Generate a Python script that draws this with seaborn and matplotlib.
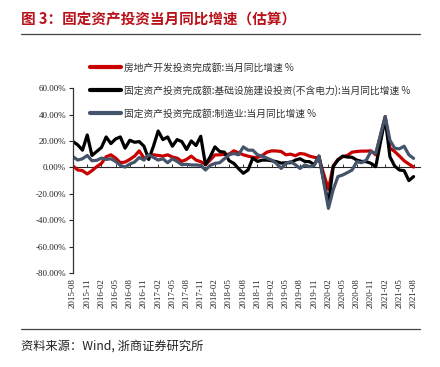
import numpy as np
import pandas as pd
import matplotlib
matplotlib.use("Agg")
import matplotlib.pyplot as plt
import seaborn as sns

# monthly YoY growth (%), 2015-08 .. 2021-08
months = pd.date_range("2015-08-01", periods=73, freq="MS").strftime("%Y-%m").tolist()

real_estate = [1.0, -2.0, -2.5, -5.0, -2.5, 0.5, 3.0, 8.0, 9.5, 7.0,
               3.5, 4.0, 6.0, 8.5, 12.5, 7.0, 8.0, 9.5, 9.0, 8.5,
               9.5, 7.8, 7.0, 4.5, 6.0, 8.5, 5.5, 4.3, 2.0, 5.5,
               9.4, 9.5, 9.8, 10.0, 12.5, 11.0, 9.5, 8.5, 7.6, 7.5,
               9.0, 11.5, 12.5, 12.4, 12.0, 9.5, 10.0, 8.8, 10.5, 10.0,
               8.5, 7.6, 7.0, -5.0, -16.5, 1.0, 6.0, 8.0, 9.0, 11.5,
               12.0, 12.3, 12.3, 12.5, 9.5, 24.0, 38.5, 14.5, 12.0, 8.6,
               5.0, 2.5, 0.2]

infra = [19.5, 17.0, 13.0, 24.5, 9.0, 12.0, 15.0, 23.0, 18.0, 21.5,
         23.0, 14.5, 20.5, 19.0, 19.5, 16.0, 6.0, 16.0, 27.5, 21.0,
         23.0, 16.0, 21.0, 19.5, 13.5, 20.0, 16.5, 23.5, 2.0, 8.0,
         15.5, 12.0, 11.5, 5.0, 3.0, -1.0, -4.5, -2.0, 7.0, 4.5,
         5.5, 5.5, 5.0, 4.3, 3.2, 3.5, 3.5, 5.5, 6.5, 4.5,
         4.3, 2.0, 8.5, -10.0, -28.0, 0.5, 5.5, 8.5, 7.8, 7.6,
         5.5, 4.5, 4.3, 3.0, 0.5, 19.0, 37.0, 8.0, 1.0, -2.0,
         -2.5, -10.0, -7.0]

manufacturing = [8.0, 5.5, 6.5, 9.0, 5.0, 5.3, 7.0, 6.0, 6.5, 4.5,
                 1.5, 0.2, 2.5, 4.0, 7.5, 5.5, 9.5, 7.5, 5.5, 6.5,
                 3.5, 6.5, 4.5, 2.0, 2.3, 1.8, 1.8, 1.5, -2.0, 1.5,
                 3.0, 3.5, 6.5, 9.5, 10.5, 9.5, 15.5, 13.0, 13.0, 9.5,
                 8.5, 7.0, 5.5, 3.0, -0.8, 3.0, 4.3, 2.0, -0.8, 1.8,
                 0.5, 1.5, 8.5, -11.0, -31.0, -17.0, -7.0, -5.8, -4.0, -2.0,
                 4.3, 3.5, 5.5, 12.0, 10.5, 24.5, 38.5, 20.5, 14.5, 14.0,
                 16.0, 9.5, 6.8]

series_names = [
    "房地产开发投资完成额:当月同比增速 %",
    "固定资产投资完成额:基础设施建设投资(不含电力):当月同比增速 %",
    "固定资产投资完成额:制造业:当月同比增速 %",
]
colors = ["#C80000", "#000000", "#44546A"]

df = pd.DataFrame({
    "idx": list(range(len(months))) * 3,
    "value": real_estate + infra + manufacturing,
    "series": np.repeat(series_names, len(months)),
})

sns.set_style("white")
cjk = ["Noto Sans CJK SC", "DejaVu Sans"]
plt.rcParams["font.family"] = cjk

fig = plt.figure(figsize=(4.4, 3.67), dpi=100)
ax = fig.add_axes([0.166, 0.256, 0.789, 0.504])

sns.lineplot(data=df, x="idx", y="value", hue="series", hue_order=series_names,
             palette=colors, linewidth=2.3, ax=ax, legend=True)

ax.set_xlim(0, 73.4)
ax.set_ylim(-80, 60)
ax.set_xlabel("")
ax.set_ylabel("")

# y axis
ax.set_yticks(np.arange(-80, 61, 20))
ax.set_yticklabels([f"{v:.2f}%" for v in np.arange(-80, 61, 20)],
                   family="Liberation Serif", fontsize=6.5, color="#222222")
ax.tick_params(axis="y", direction="out", length=3, width=0.8, pad=2, left=True)

# x labels along the bottom, every 3 months
xt = list(range(0, len(months), 3))
ax.set_xticks(xt)
ax.set_xticklabels([months[i] for i in xt], rotation=90,
                   family="Liberation Serif", fontsize=6.5, color="#222222")
ax.tick_params(axis="x", length=0, pad=4)

for s in ["top", "right", "bottom"]:
    ax.spines[s].set_visible(False)
ax.spines["left"].set_color("#333333")
ax.spines["left"].set_linewidth(0.9)

# zero line with its own small ticks
zero_pos = (0 - (-80)) / 140
sec = ax.secondary_xaxis(zero_pos)
sec.set_xticks(xt)
sec.set_xticklabels([])
sec.tick_params(direction="out", length=2.5, width=0.7, color="#333333")
sec.spines["bottom"].set_color("#333333")
sec.spines["bottom"].set_linewidth(0.9)

leg = ax.legend(loc="upper left", bbox_to_anchor=(0.205, 0.83),
                bbox_transform=fig.transFigure, frameon=False,
                fontsize=7.0, handlelength=3.2, handletextpad=0.3,
                labelspacing=1.3, borderaxespad=0, borderpad=0)
for line in leg.get_lines():
    line.set_linewidth(3.0)
for t in leg.get_texts():
    t.set_color("#333333")

# header / footer
fig.text(0.048, 0.948, "图 3：固定资产投资当月同比增速（估算）", color="#B8121B",
         fontsize=10.5, fontweight="bold", va="center", ha="left", family=cjk)
fig.add_artist(plt.Line2D([0.047, 0.955], [0.907, 0.907], color="#444444", lw=0.9))
fig.add_artist(plt.Line2D([0.047, 0.955], [0.103, 0.103], color="#444444", lw=0.9))
fig.text(0.048, 0.058, "资料来源：Wind, 浙商证券研究所", color="#222222",
         fontsize=8.8, va="center", ha="left", family=cjk)

fig.savefig("out.png", dpi=100)
